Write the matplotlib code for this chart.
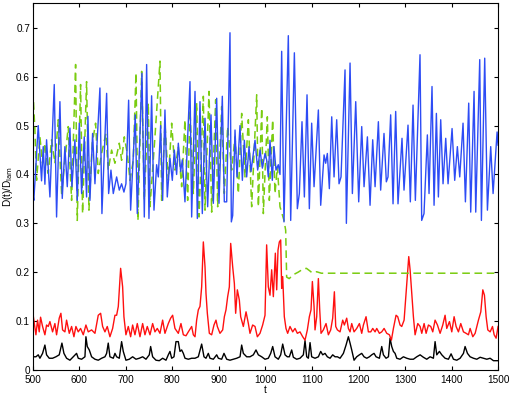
import matplotlib
matplotlib.use("Agg")
import matplotlib.pyplot as plt

plt.rcParams['font.family'] = ['Liberation Sans', 'DejaVu Sans']
plt.rcParams['font.size'] = 7.2

# blue series: turning points (t, D/Dlam)
t_blue = [500, 502, 511.5, 518.6, 522.2, 525.8, 529.4, 536.6, 545.9, 550.9, 558.1, 563.1, 568.8, 573.9,
          579.6, 583.9, 590.3, 595.4, 599.7, 604.7, 610.4, 615.4, 618.3, 622.6, 628.3, 633.4, 644.1,
          648.4, 658.5, 662.8, 667.8, 672.8, 680, 685.7, 690.7, 695.7, 700, 705.8, 710.1, 720.1, 724.4,
          734.5, 739.5, 744.5, 749.5, 755.2, 760.3, 766, 769.6, 774.6, 778.9, 783.9, 788.9, 794.7,
          799.7, 804, 809, 812.6, 817.6, 821.2, 826.9, 837.7, 841.3, 848.5, 853.5, 859.2, 864.2, 870,
          875.7, 882.9, 887.9, 895.1, 900.1, 907.2, 911.5, 916.6, 923.7, 926.6, 929.5, 934.5, 938.8,
          945.2, 950.3, 954.6, 959.6, 964.6, 968.9, 977.5, 983.2, 988.3, 993.3, 999, 1002.5, 1006.1,
          1009.7, 1014.7, 1018.3, 1022.6, 1027.6, 1031.2, 1034.8, 1039.8, 1049.1, 1054.2, 1062.1,
          1068.5, 1072.8, 1078.5, 1083.6, 1089.3, 1094.3, 1099.3, 1104.4, 1113.7, 1118.7, 1125.9,
          1129.4, 1133, 1137.3, 1142.4, 1147.4, 1153.1, 1158.1, 1162.4, 1171, 1173.9, 1181.8, 1186.8,
          1194, 1200.4, 1206.9, 1211.9, 1219.1, 1224.8, 1230.5, 1235.6, 1242.7, 1247.6, 1254.8,
          1259.8, 1263.4, 1269.1, 1274.2, 1279.9, 1284.9, 1293.5, 1297.8, 1306.4, 1311.4, 1317.2,
          1322.2, 1332.2, 1335.8, 1340.8, 1348, 1351.6, 1358, 1362.4, 1367.4, 1371.7, 1376.7, 1381.7,
          1387.5, 1392.5, 1401.1, 1406.8, 1412.5, 1417.6, 1424.7, 1429.8, 1436.9, 1441.2, 1448.4,
          1452, 1460.6, 1464.2, 1471.3, 1477.1, 1484.2, 1489.3, 1497.9, 1500]
d_blue = [0.36, 0.347, 0.50, 0.387, 0.457, 0.380, 0.471, 0.354, 0.584, 0.313, 0.549, 0.351, 0.457, 0.375,
          0.495, 0.375, 0.471, 0.347, 0.505, 0.361, 0.477, 0.354, 0.519, 0.347, 0.484, 0.381, 0.577,
          0.320, 0.566, 0.361, 0.409, 0.361, 0.395, 0.368, 0.381, 0.364, 0.381, 0.552, 0.327, 0.522, 0.320,
          0.607, 0.313, 0.625, 0.31, 0.561, 0.327, 0.42, 0.395, 0.50, 0.347, 0.532, 0.354, 0.433,
          0.388, 0.45, 0.40, 0.464, 0.406, 0.43, 0.344, 0.59, 0.313, 0.57, 0.31, 0.549, 0.32, 0.515,
          0.334, 0.522, 0.341, 0.556, 0.341, 0.56, 0.344, 0.344, 0.69, 0.303, 0.316, 0.491, 0.395,
          0.50, 0.388, 0.47, 0.395, 0.457, 0.406, 0.47, 0.409, 0.45, 0.413, 0.443, 0.43, 0.395,
          0.47, 0.388, 0.457, 0.409, 0.42, 0.40, 0.652, 0.303, 0.684, 0.306, 0.649,
          0.33, 0.361, 0.508, 0.354, 0.563, 0.33, 0.505, 0.375, 0.532, 0.337, 0.44,
          0.423, 0.443, 0.371, 0.518, 0.395, 0.512, 0.381, 0.395, 0.614, 0.30, 0.628, 0.361,
          0.549, 0.344, 0.498, 0.375, 0.477, 0.337, 0.471, 0.375, 0.508, 0.368, 0.484,
          0.385, 0.395, 0.522, 0.34, 0.529, 0.34, 0.474, 0.368, 0.501, 0.344, 0.542,
          0.347, 0.645, 0.306, 0.32, 0.481, 0.361, 0.58, 0.337, 0.525, 0.354, 0.512, 0.381,
          0.474, 0.381, 0.494, 0.388, 0.457, 0.395, 0.505, 0.344, 0.546, 0.323, 0.570,
          0.323, 0.635, 0.306, 0.638, 0.327, 0.457, 0.361, 0.487, 0.46]

# green dashed series
t_green = [500, 504.3, 507.9, 515.1, 520.8, 525.8, 533, 540.2, 547.3, 554.5, 561.7, 567.4, 576, 583.2,
           591.8, 595.4, 602.5, 606.8, 615.4, 620.5, 627.6, 634.8, 640.5, 647.7, 657, 662, 669.2,
           676.4, 685.7, 690.7, 696.5, 702.9, 708.7, 715.8, 721.6, 725.9, 733.8, 739.5, 748.1, 751.7,
           762.4, 773.2, 776.8, 783.9, 791.1, 798.3, 805.4, 812.6, 819.8, 826.9, 832.7, 837.7, 844.9,
           852, 857.1, 866.4, 870, 878.6, 884.3, 892.9, 897.2, 905.8, 911.5, 918.7, 927.3, 934.5,
           941.7, 948.8, 956, 963.2, 970.3, 981.1, 984.7, 991.9, 995.4, 1004, 1008.3, 1015.4, 1020.5,
           1025.5, 1031.2, 1039.8, 1043.4, 1045.5, 1051, 1060, 1070, 1080, 1088, 1095, 1100, 1110,
           1120, 1500]
d_green = [0.573, 0.491, 0.388, 0.477, 0.423, 0.464, 0.402, 0.471, 0.423, 0.512, 0.361, 0.416, 0.498, 0.347,
           0.625, 0.306, 0.584, 0.320, 0.590, 0.327, 0.464, 0.505, 0.402, 0.443, 0.484, 0.409, 0.450,
           0.423, 0.464, 0.429, 0.477, 0.443, 0.388, 0.429, 0.608, 0.306, 0.611, 0.347, 0.546, 0.334,
           0.477, 0.632, 0.347, 0.505, 0.388, 0.505, 0.409, 0.457, 0.375, 0.512, 0.347, 0.532, 0.361,
           0.546, 0.313, 0.560, 0.327, 0.570, 0.323, 0.553, 0.334, 0.539, 0.361, 0.498, 0.409, 0.477,
           0.361, 0.525, 0.395, 0.512, 0.334, 0.563, 0.334, 0.536, 0.320, 0.518, 0.347, 0.512, 0.361,
           0.416, 0.334, 0.306, 0.286, 0.19, 0.187, 0.195, 0.200, 0.206, 0.208, 0.203, 0.199, 0.201,
           0.198, 0.198]

# red series
t_red = [500, 506.5, 510, 513.6, 516.5, 520.8, 525.8, 529.4, 533, 536.6, 542.3, 547.3, 550.9, 556.6,
         560.2, 563.8, 568.8, 572.4, 578.2, 583.2, 588.2, 592.5, 597.5, 602.5, 608.3, 614, 619, 626.2,
         633.4, 640.5, 645.6, 649.9, 654.9, 659.9, 665.6, 671.4, 676.4, 680, 683.6, 688.6, 692.9,
         695.7, 700, 705.1, 710.1, 714.4, 719.4, 724.4, 730.2, 735.9, 740.9, 745.9, 751.7, 757.4,
         762.4, 767.4, 773.2, 778.9, 783.9, 791.1, 796.1, 800.4, 805.4, 812.6, 818.3, 823.4, 829.1,
         834.1, 841.3, 844.9, 848.5, 852, 855.6, 859.2, 862.8, 866.4, 870, 872.1, 875, 879.3, 884.3,
         889.3, 893.6, 896.5, 902.2, 908, 911.6, 915.1, 918.7, 922.3, 925.2, 929.5, 933.1, 935.9,
         939.5, 943.8, 946.7, 952.4, 958.2, 963.2, 966.7, 972.4, 977.5, 982.5, 988.2, 993.9, 999,
         1002.5, 1006.1, 1009.7, 1013.3, 1016.9, 1021.2, 1024.1, 1026.9, 1029.8, 1032.7, 1034.8, 1037,
         1040.5, 1044.1, 1047.7, 1052.7, 1058.5, 1063.5, 1068.5, 1074.2, 1080, 1085, 1090, 1094.3,
         1097.9, 1100.8, 1104.4, 1106.5, 1110.1, 1113.7, 1116.6, 1119.4, 1124.4, 1130.2, 1135.2,
         1140.2, 1144.5, 1148.1, 1151, 1154.6, 1160.3, 1166, 1169.6, 1174.6, 1178.2, 1181.8, 1185.4,
         1190.4, 1196.1, 1201.9, 1206.9, 1210.5, 1216.2, 1221.2, 1226.3, 1230.6, 1235.6, 1239.2,
         1244.9, 1249.9, 1255, 1260.7, 1266.4, 1270.7, 1275, 1280.7, 1284.3, 1289.3, 1292.9, 1298,
         1303.7, 1308, 1310.9, 1313.7, 1318, 1321.6, 1327.4, 1332.4, 1336, 1341, 1345.3, 1350.3,
         1355.3, 1359.6, 1364.6, 1369.7, 1375.4, 1381.1, 1386.1, 1389.7, 1395.5, 1400.5, 1405.5,
         1409.8, 1414.8, 1419.8, 1425.6, 1431.3, 1436.3, 1439.9, 1445.7, 1450.7, 1457.8, 1462.9,
         1467.2, 1470.7, 1474.3, 1477.9, 1483, 1488, 1491.6, 1495.8, 1500]
d_red = [0.116, 0.072, 0.102, 0.078, 0.108, 0.089, 0.072, 0.092, 0.089, 0.099, 0.078, 0.095, 0.072, 0.106,
         0.116, 0.082, 0.078, 0.102, 0.075, 0.089, 0.068, 0.089, 0.078, 0.085, 0.072, 0.092, 0.078, 0.082,
         0.075, 0.112, 0.116, 0.089, 0.078, 0.089, 0.068, 0.085, 0.112, 0.112, 0.13, 0.208, 0.17,
         0.109, 0.072, 0.089, 0.068, 0.092, 0.072, 0.095, 0.068, 0.095, 0.072, 0.089, 0.072, 0.095,
         0.078, 0.085, 0.075, 0.102, 0.075, 0.095, 0.106, 0.112, 0.085, 0.075, 0.095, 0.072, 0.070,
         0.078, 0.089, 0.072, 0.068, 0.102, 0.123, 0.13, 0.17, 0.262, 0.211, 0.157, 0.116, 0.075, 0.072,
         0.092, 0.102, 0.089, 0.075, 0.082, 0.109, 0.123, 0.15, 0.17, 0.259, 0.211, 0.177, 0.116,
         0.164, 0.143, 0.109, 0.089, 0.119, 0.095, 0.075, 0.092, 0.089, 0.068, 0.075, 0.092, 0.112,
         0.256, 0.17, 0.153, 0.205, 0.15, 0.239, 0.164, 0.245, 0.262, 0.266, 0.167, 0.191,
         0.109, 0.085, 0.075, 0.089, 0.078, 0.085, 0.075, 0.078, 0.068, 0.061, 0.082, 0.109,
         0.123, 0.181, 0.13, 0.082, 0.109, 0.187, 0.123, 0.075, 0.082, 0.095, 0.072,
         0.082, 0.106, 0.16, 0.089, 0.082, 0.078, 0.102, 0.092, 0.106, 0.085, 0.078, 0.095,
         0.078, 0.085, 0.095, 0.075, 0.092, 0.109, 0.078, 0.078, 0.085, 0.078, 0.085,
         0.075, 0.078, 0.085, 0.075, 0.072, 0.061, 0.085, 0.112, 0.109, 0.092, 0.089, 0.102,
         0.177, 0.232, 0.205, 0.167, 0.109, 0.072, 0.095, 0.089, 0.075, 0.095, 0.075, 0.092,
         0.089, 0.078, 0.102, 0.092, 0.075, 0.092, 0.112, 0.085, 0.099, 0.078, 0.109,
         0.089, 0.078, 0.095, 0.078, 0.075, 0.072, 0.085, 0.068, 0.075, 0.102, 0.119,
         0.164, 0.153, 0.109, 0.082, 0.078, 0.089, 0.072, 0.065, 0.089]

# black series
t_black = [500, 506.5, 511.5, 515.1, 520.8, 525.8, 529.4, 535.1, 542.3, 549.5, 556.6, 562.4, 566.7, 572.4,
           579.6, 586.8, 593.9, 597.5, 604.7, 611.9, 614, 616.9, 621.2, 626.2, 633.4, 640.5, 647.7,
           654.9, 658.5, 662, 665.6, 672.8, 676.4, 680, 685.7, 690.7, 694.3, 700, 707.2, 714.4, 721.6,
           728.7, 735.9, 743.1, 750.2, 753.1, 757.4, 764.6, 771.7, 778.9, 786.1, 791.1, 794.7, 798.3,
           803.3, 807.6, 812.6, 816.2, 819.8, 823.4, 827, 834.1, 841.3, 848.5, 855.6, 862.8, 867.8,
           872.1, 877.1, 880.7, 887.9, 895.1, 898.7, 905.8, 910.8, 916.6, 923.7, 930.9, 938.1, 945.3,
           948.8, 952.4, 959.6, 966.7, 973.9, 979.6, 984.6, 991.8, 999, 1006.1, 1011.2, 1015.5,
           1020.5, 1027.6, 1032.7, 1037, 1042, 1047, 1051.3, 1056.3, 1059.9, 1067.1, 1074.2, 1081.4,
           1085, 1088.6, 1092.2, 1095.8, 1099.3, 1106.5, 1113.7, 1118.7, 1123, 1128, 1133, 1138.8,
           1144.5, 1149.5, 1154.6, 1160.3, 1167.5, 1173.2, 1178.2, 1181.8, 1185.4, 1190.4, 1196.1,
           1201.9, 1206.9, 1211.9, 1217.7, 1223.4, 1228.4, 1233.4, 1237.7, 1244.9, 1249.9, 1253.5,
           1259.2, 1264.3, 1267.8, 1271.4, 1275, 1278.6, 1282.2, 1289.3, 1296.5, 1303.7, 1310.9, 1318,
           1325.2, 1332.4, 1339.5, 1346.7, 1353.9, 1361, 1364.6, 1368.2, 1373.9, 1379, 1386.1, 1393.3,
           1399, 1404.1, 1411.2, 1418.4, 1425.6, 1429.1, 1434.2, 1439.9, 1447.1, 1454.3, 1461.4,
           1468.6, 1475.8, 1482.9, 1490.1, 1500]
d_black = [0.027, 0.027, 0.031, 0.024, 0.034, 0.051, 0.031, 0.024, 0.024, 0.027, 0.031, 0.055, 0.034, 0.024,
           0.020, 0.027, 0.034, 0.024, 0.022, 0.027, 0.068, 0.048, 0.041, 0.027, 0.022, 0.020, 0.024,
           0.027, 0.034, 0.055, 0.027, 0.024, 0.034, 0.027, 0.024, 0.058, 0.038, 0.020, 0.022, 0.027, 0.022,
           0.024, 0.027, 0.022, 0.031, 0.048, 0.027, 0.020, 0.019, 0.024, 0.020, 0.031, 0.038, 0.024,
           0.027, 0.058, 0.058, 0.038, 0.041, 0.034, 0.024, 0.022, 0.024, 0.024, 0.027, 0.053, 0.027,
           0.024, 0.034, 0.024, 0.022, 0.031, 0.024, 0.022, 0.034, 0.022, 0.020, 0.022, 0.024, 0.027,
           0.051, 0.034, 0.027, 0.027, 0.031, 0.041, 0.031, 0.027, 0.022, 0.024, 0.034, 0.048,
           0.027, 0.022, 0.031, 0.053, 0.031, 0.027, 0.027, 0.041, 0.026, 0.022, 0.024, 0.031,
           0.060, 0.027, 0.024, 0.056, 0.027, 0.024, 0.027, 0.038, 0.031, 0.034, 0.027, 0.024,
           0.031, 0.027, 0.027, 0.024, 0.034, 0.051, 0.068, 0.055, 0.041, 0.020, 0.027,
           0.031, 0.034, 0.027, 0.024, 0.027, 0.031, 0.034, 0.027, 0.024, 0.048, 0.031,
           0.024, 0.027, 0.065, 0.048, 0.038, 0.034, 0.024, 0.022, 0.027, 0.024, 0.022, 0.022,
           0.027, 0.031, 0.026, 0.022, 0.027, 0.024, 0.058, 0.031, 0.038, 0.031, 0.024, 0.022,
           0.033, 0.022, 0.020, 0.024, 0.034, 0.048, 0.034, 0.027, 0.024, 0.022, 0.026,
           0.024, 0.022, 0.024, 0.019, 0.019]

x_ticks = [500, 600, 700, 800, 900, 1000, 1100, 1200, 1300, 1400, 1500]
y_ticks = [0, 0.1, 0.2, 0.3, 0.4, 0.5, 0.6, 0.7]
y_tick_labels = ['0', '0.1', '0.2', '0.3', '0.4', '0.5', '0.6', '0.7']

fig = plt.figure(figsize=(5.14, 3.98), dpi=100)
ax = fig.add_axes([0.064, 0.0704, 0.905, 0.921])

ax.plot(t_black, d_black, color='black', linewidth=1.0)
ax.plot(t_red, d_red, color='#ff1010', linewidth=1.0)
ax.plot(t_green, d_green, color='#7acc10', linewidth=1.1, dashes=(5, 3))
ax.plot(t_blue, d_blue, color='#2d4cf5', linewidth=1.0)

ax.set_xlim(500, 1500)
ax.set_ylim(0, 0.75)
ax.set_xticks(x_ticks)
ax.set_yticks(y_ticks)
ax.set_yticklabels(y_tick_labels)
ax.tick_params(direction='in', top=True, right=True, length=3, width=0.8)
ax.tick_params(axis='x', pad=3.5)
ax.tick_params(axis='y', pad=2)
for s in ax.spines.values():
    s.set_linewidth(0.8)

ax.set_xlabel('t', labelpad=0)
ax.set_ylabel('D(t)/D$_{\\rm lam}$', labelpad=1)

fig.savefig('out.png', dpi=100)
